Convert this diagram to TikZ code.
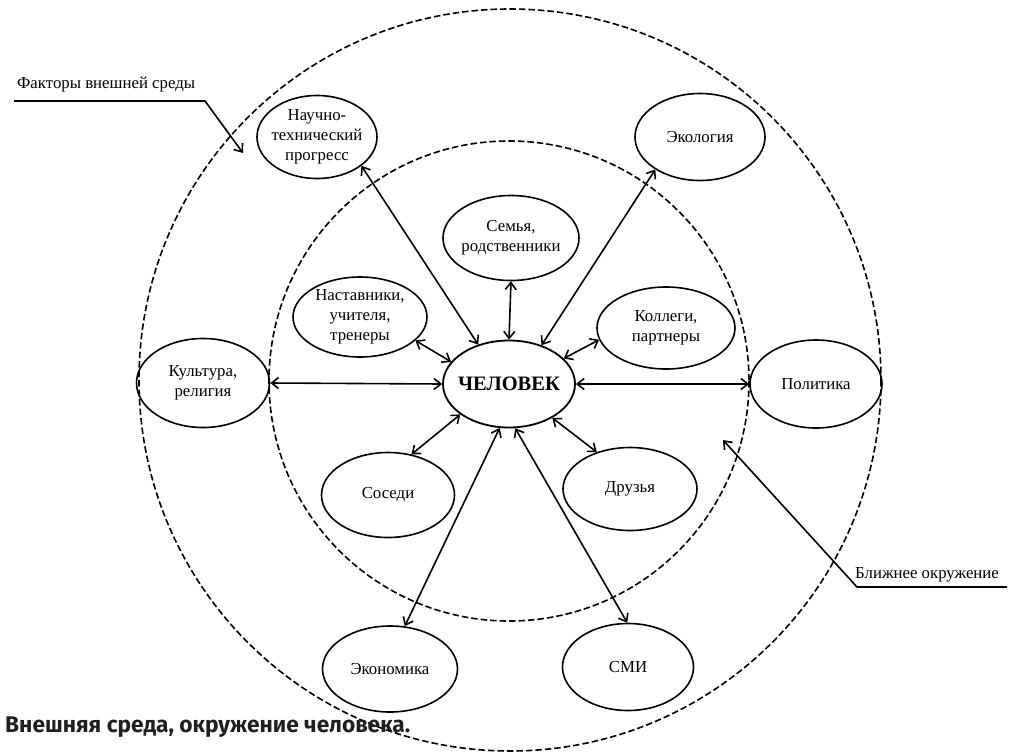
\documentclass[tikz,border=0pt]{standalone}
\usepackage{fontspec}
\setmainfont{Liberation Serif}
\newfontfamily\capfont{Fira Sans}
\usetikzlibrary{shapes.geometric,arrows.meta}
\begin{document}
\begin{tikzpicture}[x=1pt,y=-1pt,
  >={Straight Barb[length=7pt,width=11pt]},
  lw/.style={line width=1.6pt},
  ring/.style={line width=1.6pt,dash pattern=on 6.5pt off 3pt},
  oval/.style={ellipse,draw,line width=1.6pt,minimum width=133pt,minimum height=86pt,
    inner xsep=-10pt,inner ysep=0pt,align=center,font=\fontsize{16.8}{20}\selectfont},
  link/.style={lw,<->},
  lbl/.style={font=\fontsize{16.8}{20}\selectfont,inner sep=0pt}]
\useasboundingbox (0,0) rectangle (1015,753);
% circles
\draw[ring] (510,380) circle[radius=371];
\draw[ring] (509,381) circle[radius=240];
% nodes
\node[oval,line width=1.8pt,minimum width=132pt,minimum height=87pt,font=\fontsize{20.5}{24}\selectfont\bfseries] (h) at (509,384) {ЧЕЛОВЕК};
\node[oval,minimum width=120pt,minimum height=83pt] (nt) at (317,137) {Научно-\\технический\\прогресс};
\node[oval,minimum width=130pt,minimum height=87pt] (eco) at (700,137) {Экология};
\node[oval,minimum width=136pt,minimum height=85pt] (fam) at (511,238) {Семья,\\родственники};
\node[oval,minimum width=134pt,minimum height=80pt] (men) at (360,317) {Наставники,\\учителя,\\тренеры};
\node[oval,minimum width=138pt,minimum height=82pt] (col) at (666,328) {Коллеги,\\партнеры};
\node[oval,minimum width=133pt,minimum height=89pt] (cul) at (203,383) {Культура,\\религия};
\node[oval,minimum width=132pt,minimum height=88pt] (pol) at (816,384) {Политика};
\node[oval,minimum width=133pt,minimum height=85pt] (nei) at (388,495) {Соседи};
\node[oval,minimum width=134pt,minimum height=83pt] (fri) at (630,489) {Друзья};
\node[oval,minimum width=135pt,minimum height=86pt] (ecn) at (390,669) {Экономика};
\node[oval,minimum width=131pt,minimum height=87pt] (smi) at (628,667) {СМИ};
% connectors
\draw[link] (nt.-33) -- (h.128);
\draw[link] (eco.-144) -- (h.50);
\draw[link] (fam.south) -- (h.north);
\draw[link] (men.-23) -- (h.159);
\draw[link] (col.-170) -- (h.25);
\draw[link] (cul.east) -- (h.west);
\draw[link] (pol.west) -- (h.east);
\draw[link] (nei.60) -- (h.-148);
\draw[link] (fri.132) -- (h.-38);
\draw[link] (ecn.71) -- (h.-102);
\draw[link] (smi.91) -- (h.-82);
% labels
\node[lbl,anchor=base west] (fl) at (17,88) {Факторы внешней среды};
\coordinate (f1) at (14,101);
\coordinate (f2) at (205,101);
\coordinate (f3) at (243,153);
\draw[lw,->] (f1) -- (f2) -- (f3);
\node[lbl,anchor=base west] (bl) at (855,578) {Ближнее окружение};
\coordinate (b1) at (1007,587);
\coordinate (b2) at (857,587);
\coordinate (b3) at (723,440);
\draw[lw,->] (b1) -- (b2) -- (b3);
% caption
\node[anchor=base west,inner sep=0pt,text=black!88,font=\capfont\bfseries\fontsize{22.7}{27}\selectfont] (cap) at (5,732) {Внешняя среда, окружение человека.};
\end{tikzpicture}
\end{document}
